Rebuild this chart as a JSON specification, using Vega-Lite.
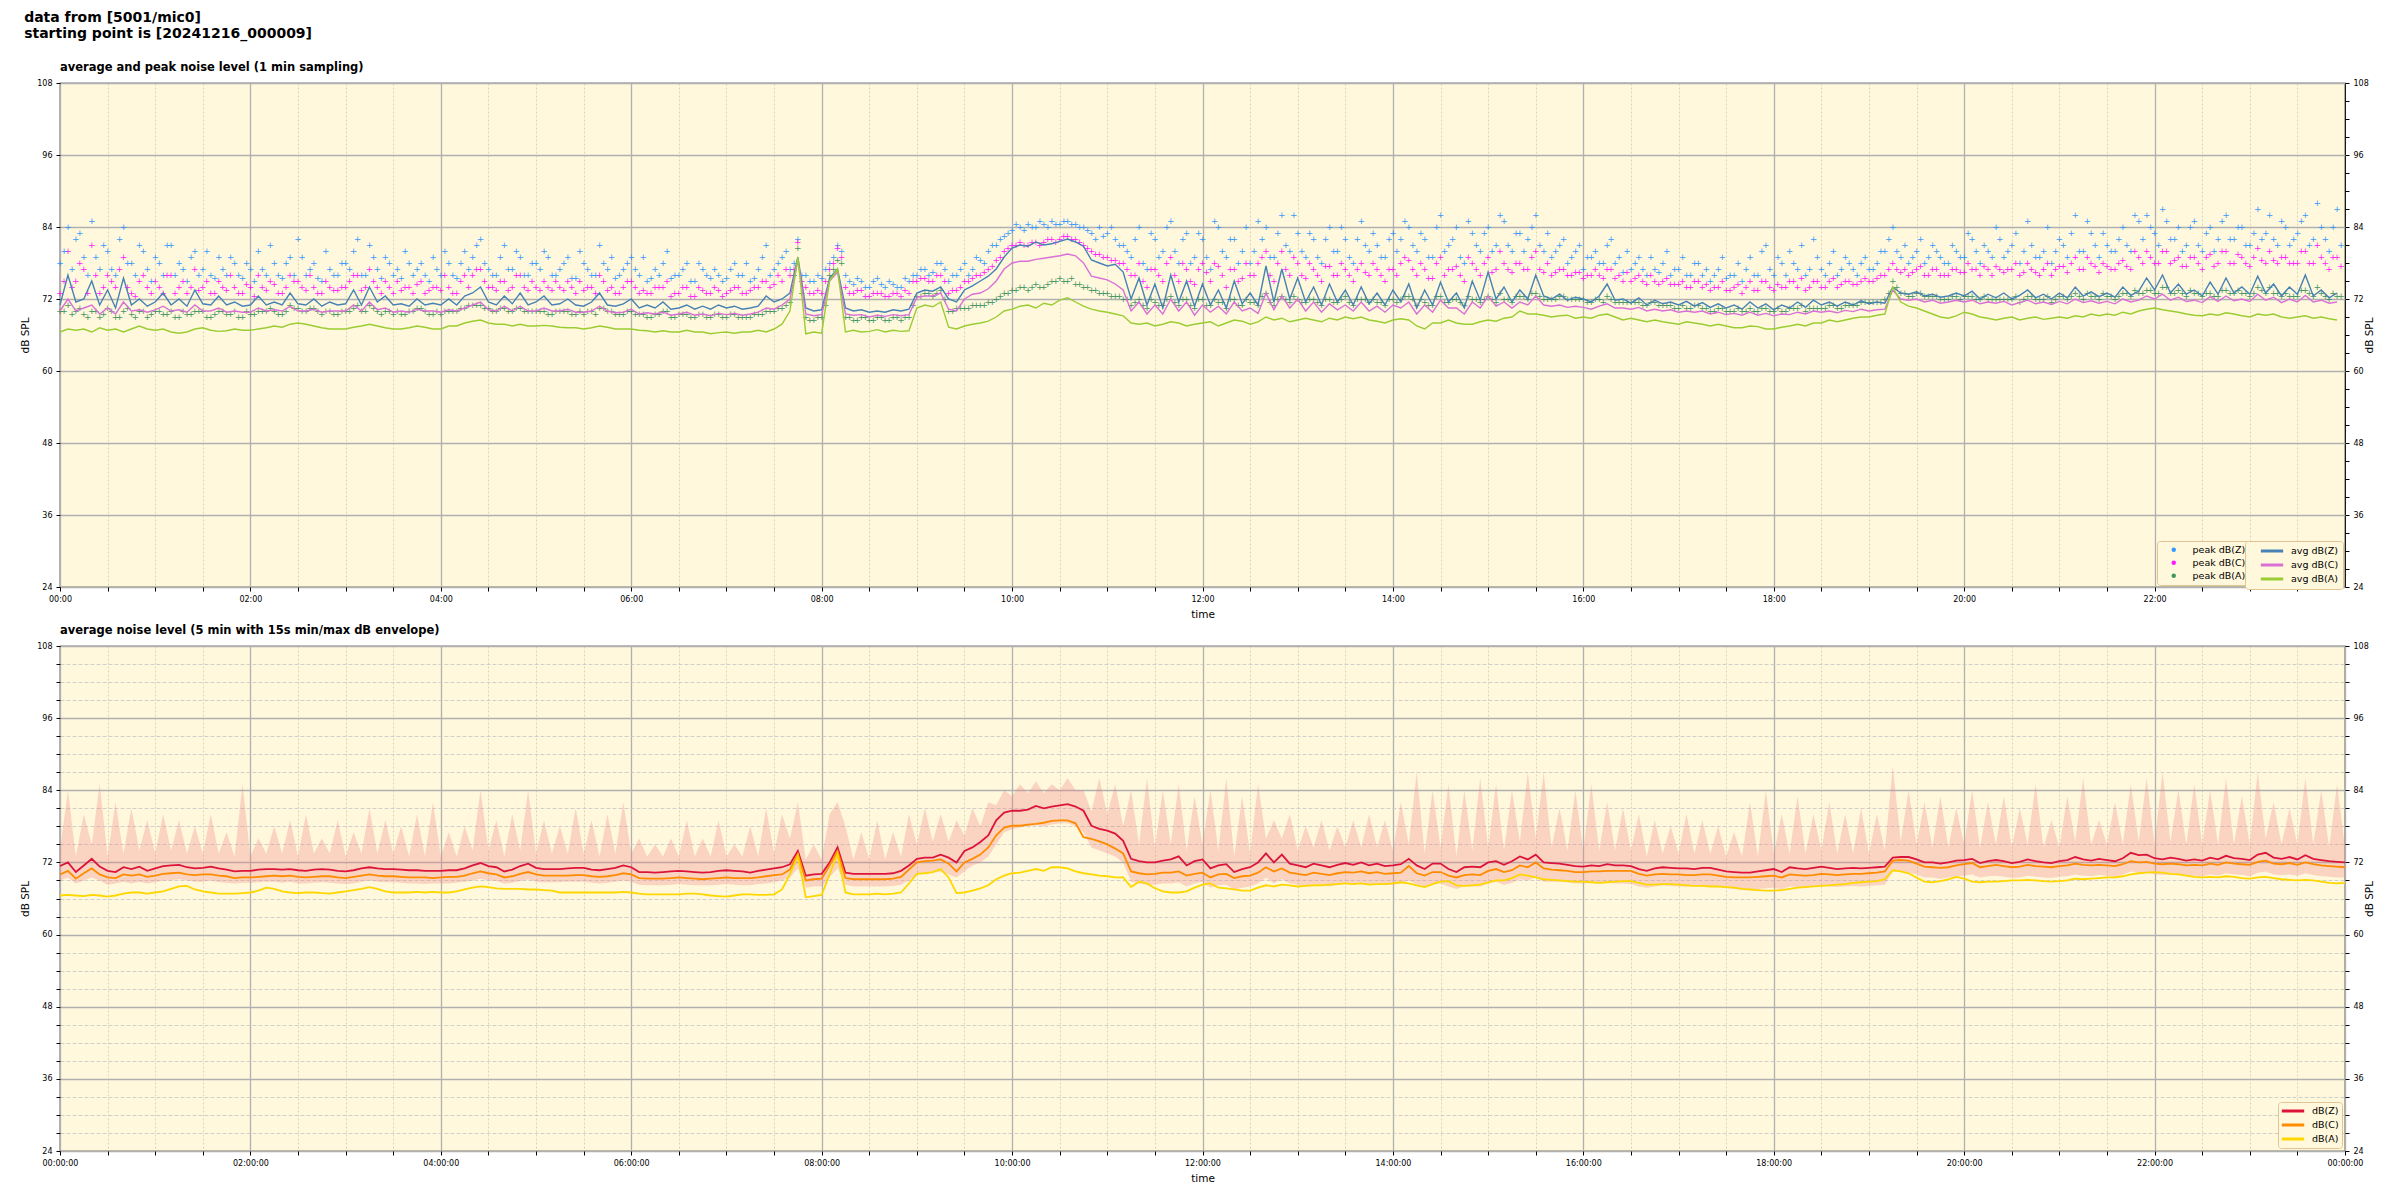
{
"$schema":"https://vega.github.io/schema/vega-lite/v6.json",
"background":"white",
"padding":{"left":20,"top":10,"right":5,"bottom":5},
"title":{"text":["data from [5001/mic0]","starting point is [20241216_000009]"],"anchor":"start","frame":"bounds","font":"DejaVu Sans","fontSize":14,"fontWeight":"bold","lineHeight":16,"offset":20,"dx":4,"color":"black"},
"config":{
 "font":"DejaVu Sans",
 "view":{"fill":"#fff8dc","stroke":"black","strokeWidth":1.2},
 "axis":{"labelFont":"DejaVu Sans","labelFontSize":8,"labelColor":"#000","titleFont":"DejaVu Sans","titleFontSize":10.5,"titleFontWeight":"normal","titleColor":"#000","tickColor":"#000","tickSize":4,"domain":false,"labelPadding":4,"titlePadding":6,"labelOverlap":false,"labelFlush":false},
 "title":{"font":"DejaVu Sans","color":"black"},
 "legend":{"labelFont":"DejaVu Sans","labelFontSize":9.5,"labelColor":"#000"}
},
"spacing":2,
"datasets":{
"top":[
{"m":0,"z":71,"c":70,"a":66.5,"pz":78,"pc":73,"pa":70},
{"m":5,"z":76,"c":72,"a":67,"pz":84,"pc":80,"pa":71},
{"m":10,"z":71.5,"c":70,"a":66.8,"pz":82,"pc":75,"pa":70},
{"m":15,"z":72,"c":70.5,"a":67,"pz":79,"pc":77,"pa":69.5},
{"m":20,"z":75,"c":71,"a":66.5,"pz":85,"pc":81,"pa":70},
{"m":25,"z":71,"c":69.5,"a":67.2,"pz":77,"pc":73,"pa":69},
{"m":30,"z":73.5,"c":70.5,"a":66.8,"pz":80,"pc":76,"pa":70.5},
{"m":35,"z":70.5,"c":69.5,"a":67,"pz":76,"pc":74,"pa":69},
{"m":40,"z":75.5,"c":71.5,"a":66.5,"pz":84,"pc":79,"pa":70},
{"m":45,"z":71,"c":70,"a":67,"pz":78,"pc":73,"pa":69.5},
{"m":50,"z":72,"c":70.2,"a":67.5,"pz":81,"pc":75,"pa":70},
{"m":55,"z":70.8,"c":69.8,"a":67,"pz":77,"pc":74,"pa":69},
{"m":60,"z":71.5,"c":70.2,"a":66.8,"pz":79,"pc":75,"pa":70},
{"m":65,"z":73,"c":70.8,"a":67,"pz":76,"pc":73,"pa":69.5},
{"m":70,"z":71,"c":70,"a":66.5,"pz":81,"pc":76,"pa":70},
{"m":75,"z":72,"c":70.2,"a":66.3,"pz":78,"pc":74,"pa":69},
{"m":80,"z":70.8,"c":69.8,"a":66.5,"pz":75,"pc":73,"pa":69.5},
{"m":85,"z":73.5,"c":71,"a":67,"pz":80,"pc":77,"pa":70},
{"m":90,"z":71.2,"c":70,"a":67.2,"pz":77,"pc":74,"pa":70},
{"m":95,"z":71,"c":70,"a":66.8,"pz":76,"pc":73,"pa":69},
{"m":100,"z":72.5,"c":70.5,"a":66.6,"pz":79,"pc":75,"pa":70},
{"m":105,"z":71,"c":69.8,"a":66.7,"pz":76,"pc":73.5,"pa":69.5},
{"m":110,"z":71.5,"c":70,"a":67,"pz":78,"pc":74,"pa":70},
{"m":115,"z":70.8,"c":69.8,"a":66.8,"pz":75.5,"pc":73,"pa":69},
{"m":120,"z":71,"c":69.8,"a":66.8,"pz":77,"pc":74,"pa":69.5},
{"m":125,"z":72.5,"c":70.5,"a":67,"pz":80,"pc":76,"pa":70},
{"m":130,"z":71,"c":70,"a":67.2,"pz":76,"pc":73.5,"pa":70},
{"m":135,"z":71.5,"c":70.2,"a":67.5,"pz":78,"pc":74.5,"pa":70},
{"m":140,"z":71,"c":70,"a":67.3,"pz":75.5,"pc":73,"pa":69.5},
{"m":145,"z":73,"c":70.8,"a":67.8,"pz":79,"pc":76,"pa":71},
{"m":150,"z":71.2,"c":70,"a":68,"pz":82,"pc":75,"pa":70.5},
{"m":155,"z":71,"c":70,"a":67.8,"pz":76,"pc":73.5,"pa":70},
{"m":160,"z":72,"c":70.3,"a":67.5,"pz":78,"pc":74,"pa":70.5},
{"m":165,"z":70.8,"c":69.8,"a":67.2,"pz":75,"pc":73,"pa":69.5},
{"m":170,"z":71.5,"c":70,"a":67,"pz":77,"pc":74,"pa":70},
{"m":175,"z":71,"c":70,"a":67,"pz":76,"pc":73.5,"pa":69.5},
{"m":180,"z":71.2,"c":70,"a":67,"pz":78,"pc":74,"pa":70},
{"m":185,"z":73.5,"c":71,"a":67.3,"pz":80,"pc":76,"pa":70.5},
{"m":190,"z":71,"c":70,"a":67.5,"pz":76,"pc":73.5,"pa":70},
{"m":195,"z":74,"c":71.5,"a":67.8,"pz":81,"pc":77,"pa":71},
{"m":200,"z":71.5,"c":70.2,"a":67.5,"pz":77,"pc":74,"pa":70},
{"m":205,"z":72.5,"c":70.5,"a":67.2,"pz":79,"pc":75,"pa":70},
{"m":210,"z":71,"c":69.8,"a":67,"pz":76,"pc":73,"pa":69.5},
{"m":215,"z":71.2,"c":70,"a":67,"pz":75.5,"pc":73.5,"pa":69.5},
{"m":220,"z":70.8,"c":69.8,"a":67.2,"pz":78,"pc":74,"pa":70},
{"m":225,"z":72,"c":70.3,"a":67.5,"pz":77,"pc":74.5,"pa":70.5},
{"m":230,"z":71,"c":70,"a":67.3,"pz":76,"pc":73,"pa":70},
{"m":235,"z":71.3,"c":70,"a":67,"pz":79,"pc":74,"pa":69.5},
{"m":240,"z":71,"c":69.8,"a":67,"pz":76,"pc":73.5,"pa":69.5},
{"m":245,"z":72,"c":70.2,"a":67.5,"pz":78,"pc":74,"pa":70},
{"m":250,"z":71,"c":70,"a":67.5,"pz":75.5,"pc":73,"pa":70},
{"m":255,"z":72.5,"c":70.5,"a":68,"pz":80,"pc":76,"pa":70.5},
{"m":260,"z":73,"c":71,"a":68.3,"pz":79,"pc":76,"pa":71},
{"m":265,"z":74,"c":71.5,"a":68.5,"pz":82,"pc":77,"pa":71},
{"m":270,"z":71.5,"c":70.2,"a":68,"pz":77,"pc":74,"pa":70.5},
{"m":275,"z":71,"c":70,"a":67.8,"pz":76,"pc":73.5,"pa":70},
{"m":280,"z":72.5,"c":70.8,"a":67.8,"pz":81,"pc":75,"pa":70.5},
{"m":285,"z":71.2,"c":70,"a":67.5,"pz":77,"pc":74,"pa":70},
{"m":290,"z":73,"c":70.8,"a":67.8,"pz":79,"pc":76,"pa":70.5},
{"m":295,"z":71,"c":70,"a":67.5,"pz":76,"pc":73.5,"pa":70},
{"m":300,"z":71.5,"c":70,"a":67.5,"pz":78,"pc":74,"pa":70},
{"m":305,"z":72.5,"c":70.5,"a":67.6,"pz":80,"pc":75,"pa":70},
{"m":310,"z":71,"c":70,"a":67.5,"pz":76,"pc":73.5,"pa":69.5},
{"m":315,"z":71.2,"c":70,"a":67.3,"pz":77,"pc":74,"pa":70},
{"m":320,"z":72,"c":70.3,"a":67.2,"pz":79,"pc":75,"pa":70},
{"m":325,"z":71,"c":69.8,"a":67.2,"pz":75.5,"pc":73,"pa":69.5},
{"m":330,"z":70.8,"c":69.8,"a":67,"pz":78,"pc":73.5,"pa":69.5},
{"m":335,"z":71.5,"c":70,"a":67.2,"pz":76,"pc":74,"pa":70},
{"m":340,"z":73,"c":70.8,"a":67.5,"pz":81,"pc":76,"pa":70.5},
{"m":345,"z":71,"c":70,"a":67.3,"pz":77,"pc":73.5,"pa":70},
{"m":350,"z":70.8,"c":69.7,"a":67,"pz":75.5,"pc":73,"pa":69.5},
{"m":355,"z":71.2,"c":69.8,"a":67,"pz":77,"pc":74,"pa":69.5},
{"m":360,"z":72,"c":70.3,"a":67,"pz":79,"pc":75,"pa":70},
{"m":365,"z":70.5,"c":69.5,"a":66.8,"pz":76,"pc":73,"pa":69.5},
{"m":370,"z":71,"c":69.7,"a":66.7,"pz":75,"pc":73,"pa":69},
{"m":375,"z":70.5,"c":69.5,"a":66.5,"pz":77,"pc":74,"pa":69.5},
{"m":380,"z":71.5,"c":69.8,"a":66.7,"pz":78,"pc":74,"pa":70},
{"m":385,"z":70.3,"c":69.3,"a":66.5,"pz":75.5,"pc":72.5,"pa":69},
{"m":390,"z":70.5,"c":69.5,"a":66.5,"pz":76,"pc":73,"pa":69.5},
{"m":395,"z":71,"c":69.8,"a":66.8,"pz":78,"pc":74,"pa":69.5},
{"m":400,"z":70.3,"c":69.3,"a":66.5,"pz":75,"pc":72.5,"pa":69},
{"m":405,"z":70.8,"c":69.5,"a":66.5,"pz":77,"pc":73.5,"pa":69.5},
{"m":410,"z":70.3,"c":69.2,"a":66.2,"pz":75.5,"pc":73,"pa":69},
{"m":415,"z":71,"c":69.6,"a":66.4,"pz":76,"pc":73.5,"pa":69.5},
{"m":420,"z":70.5,"c":69.4,"a":66.5,"pz":75.5,"pc":73,"pa":69},
{"m":425,"z":70.8,"c":69.6,"a":66.3,"pz":78,"pc":74,"pa":69.5},
{"m":430,"z":70.3,"c":69.3,"a":66.5,"pz":76,"pc":73,"pa":69},
{"m":435,"z":70.5,"c":69.5,"a":66.5,"pz":75,"pc":73.5,"pa":69},
{"m":440,"z":70.8,"c":69.8,"a":66.8,"pz":77,"pc":74,"pa":69.5},
{"m":445,"z":72.5,"c":70.5,"a":66.5,"pz":81,"pc":75,"pa":70},
{"m":450,"z":71.5,"c":70.3,"a":67,"pz":77,"pc":74.5,"pa":70},
{"m":455,"z":72,"c":71,"a":67.8,"pz":79,"pc":75,"pa":70.5},
{"m":460,"z":73,"c":72,"a":70,"pz":77,"pc":76,"pa":71.5},
{"m":465,"z":79,"c":78.5,"a":79,"pz":82,"pc":81.5,"pa":80.5},
{"m":470,"z":70.5,"c":69.5,"a":66.2,"pz":76,"pc":74,"pa":69},
{"m":475,"z":70,"c":69.2,"a":66.5,"pz":75,"pc":73,"pa":68.5},
{"m":480,"z":70.2,"c":69.4,"a":66.3,"pz":75.5,"pc":73,"pa":69},
{"m":485,"z":75.5,"c":75,"a":75,"pz":78,"pc":77,"pa":76},
{"m":490,"z":77,"c":76.5,"a":77,"pz":81,"pc":80.5,"pa":78.5},
{"m":495,"z":70.5,"c":69.5,"a":66.5,"pz":76,"pc":74,"pa":69},
{"m":500,"z":70,"c":69.3,"a":66.8,"pz":74.5,"pc":73,"pa":68.5},
{"m":505,"z":70.2,"c":69.4,"a":66.5,"pz":75,"pc":73.5,"pa":69},
{"m":510,"z":69.8,"c":69,"a":66.6,"pz":74,"pc":72.5,"pa":68.5},
{"m":515,"z":70,"c":69.3,"a":66.9,"pz":75.5,"pc":73,"pa":69},
{"m":520,"z":69.8,"c":69.1,"a":66.5,"pz":74,"pc":72.5,"pa":68.5},
{"m":525,"z":70.2,"c":69.4,"a":66.8,"pz":74.5,"pc":73,"pa":69},
{"m":530,"z":70,"c":69.2,"a":66.6,"pz":74,"pc":72.5,"pa":68.5},
{"m":535,"z":70.3,"c":69.4,"a":66.7,"pz":75,"pc":73,"pa":69},
{"m":540,"z":73,"c":72.3,"a":70.5,"pz":76,"pc":75,"pa":72.5},
{"m":545,"z":73.5,"c":72.5,"a":71,"pz":77,"pc":75.5,"pa":73},
{"m":550,"z":73.3,"c":72.5,"a":70.7,"pz":76.5,"pc":75,"pa":72.5},
{"m":555,"z":74,"c":73,"a":71.5,"pz":78,"pc":76,"pa":73.5},
{"m":560,"z":72,"c":70.3,"a":67.3,"pz":75,"pc":73,"pa":70},
{"m":565,"z":71.5,"c":70,"a":67,"pz":76,"pc":73.5,"pa":70.5},
{"m":570,"z":73.5,"c":72,"a":67.5,"pz":78,"pc":75,"pa":70.5},
{"m":575,"z":74.2,"c":72.8,"a":67.8,"pz":77,"pc":75.5,"pa":71},
{"m":580,"z":75,"c":73,"a":68,"pz":78.5,"pc":76,"pa":71},
{"m":585,"z":75.8,"c":73.7,"a":68.3,"pz":80,"pc":77,"pa":71.5},
{"m":590,"z":77,"c":75,"a":69,"pz":81,"pc":78.5,"pa":72},
{"m":595,"z":79,"c":77,"a":70,"pz":82.5,"pc":80,"pa":73},
{"m":600,"z":80.5,"c":78,"a":70.3,"pz":83.5,"pc":81,"pa":73.5},
{"m":605,"z":81,"c":78.3,"a":70.8,"pz":84,"pc":81.5,"pa":74},
{"m":610,"z":80.8,"c":78.3,"a":71,"pz":84.5,"pc":81,"pa":73.5},
{"m":615,"z":81.5,"c":78.6,"a":70.5,"pz":84,"pc":81.5,"pa":74.5},
{"m":620,"z":81,"c":78.8,"a":71.3,"pz":84.5,"pc":81.5,"pa":74},
{"m":625,"z":81.2,"c":79,"a":71,"pz":85,"pc":82,"pa":75},
{"m":630,"z":81.6,"c":79.2,"a":71.8,"pz":84.5,"pc":82,"pa":75.5},
{"m":635,"z":82,"c":79.5,"a":72.2,"pz":85,"pc":82.5,"pa":75},
{"m":640,"z":81.5,"c":79.2,"a":71.5,"pz":84.5,"pc":82,"pa":74.5},
{"m":645,"z":80.8,"c":78,"a":70.8,"pz":84,"pc":81,"pa":74},
{"m":650,"z":78.5,"c":75.8,"a":70.3,"pz":83,"pc":80,"pa":73.5},
{"m":655,"z":78,"c":75.5,"a":70,"pz":84,"pc":79.5,"pa":73},
{"m":660,"z":77.5,"c":75.2,"a":69.8,"pz":83,"pc":79,"pa":73},
{"m":665,"z":77.8,"c":74.5,"a":69.5,"pz":82,"pc":78.5,"pa":72.5},
{"m":670,"z":76.5,"c":73.5,"a":69.2,"pz":81,"pc":78,"pa":72},
{"m":675,"z":72,"c":70,"a":68,"pz":79,"pc":76,"pa":71},
{"m":680,"z":75.5,"c":71.5,"a":67.8,"pz":84,"pc":78,"pa":72},
{"m":685,"z":71,"c":69.5,"a":68,"pz":77,"pc":74,"pa":70.5},
{"m":690,"z":74.5,"c":71,"a":67.5,"pz":82,"pc":77,"pa":71.5},
{"m":695,"z":70.5,"c":69.5,"a":67.8,"pz":80,"pc":75,"pa":71},
{"m":700,"z":76,"c":72,"a":68.2,"pz":85,"pc":79,"pa":72.5},
{"m":705,"z":71.5,"c":70,"a":68,"pz":78,"pc":75,"pa":71},
{"m":710,"z":75,"c":71.5,"a":67.5,"pz":83,"pc":77,"pa":72},
{"m":715,"z":70.8,"c":69.3,"a":67.8,"pz":79,"pc":74.5,"pa":70.5},
{"m":720,"z":74.5,"c":71,"a":68,"pz":82,"pc":78,"pa":72},
{"m":725,"z":71,"c":69.8,"a":68.2,"pz":77,"pc":75,"pa":71},
{"m":730,"z":73.5,"c":70.8,"a":67.5,"pz":84,"pc":77.5,"pa":71.5},
{"m":735,"z":70.5,"c":69.5,"a":68,"pz":79,"pc":74,"pa":70.5},
{"m":740,"z":75,"c":71.5,"a":68.5,"pz":82,"pc":77,"pa":72},
{"m":745,"z":71.2,"c":70,"a":68.3,"pz":80,"pc":75.5,"pa":71},
{"m":750,"z":73,"c":70.5,"a":67.8,"pz":78,"pc":76,"pa":71.5},
{"m":755,"z":71,"c":69.6,"a":68.2,"pz":85,"pc":78,"pa":71},
{"m":760,"z":77.5,"c":73,"a":69,"pz":84,"pc":80,"pa":73},
{"m":765,"z":71.5,"c":70.2,"a":68.5,"pz":79,"pc":75,"pa":71},
{"m":770,"z":77,"c":72.5,"a":68.8,"pz":86,"pc":80,"pa":72.5},
{"m":775,"z":72,"c":70.5,"a":68.2,"pz":80,"pc":76,"pa":71.5},
{"m":780,"z":75.5,"c":72,"a":68.5,"pz":83,"pc":78,"pa":72},
{"m":785,"z":71.5,"c":70,"a":68.8,"pz":79,"pc":75.5,"pa":71.5},
{"m":790,"z":74,"c":71.5,"a":68.5,"pz":82,"pc":77,"pa":72},
{"m":795,"z":71,"c":69.8,"a":68.2,"pz":78,"pc":75,"pa":71},
{"m":800,"z":74.5,"c":71.2,"a":68.8,"pz":84,"pc":77.5,"pa":72},
{"m":805,"z":71.5,"c":70.2,"a":68.5,"pz":80,"pc":76,"pa":71.5},
{"m":810,"z":73.5,"c":71,"a":69,"pz":82,"pc":77,"pa":72.5},
{"m":815,"z":71,"c":70,"a":68.7,"pz":78,"pc":75,"pa":71},
{"m":820,"z":74,"c":71.5,"a":69,"pz":85,"pc":78,"pa":72},
{"m":825,"z":71.2,"c":70,"a":68.5,"pz":80,"pc":76,"pa":71.5},
{"m":830,"z":73,"c":70.8,"a":68.3,"pz":81,"pc":77,"pa":71.5},
{"m":835,"z":71,"c":69.8,"a":68,"pz":79,"pc":75,"pa":71},
{"m":840,"z":73.5,"c":71,"a":68.5,"pz":83,"pc":77,"pa":72},
{"m":845,"z":71.5,"c":70.5,"a":68.7,"pz":82,"pc":78,"pa":72},
{"m":850,"z":74.5,"c":71.5,"a":68.5,"pz":84,"pc":78.5,"pa":72.5},
{"m":855,"z":70.5,"c":69.5,"a":67.5,"pz":80,"pc":76,"pa":71},
{"m":860,"z":73.5,"c":71,"a":67,"pz":82,"pc":77,"pa":71.5},
{"m":865,"z":71,"c":69.8,"a":68,"pz":79,"pc":75.5,"pa":71},
{"m":870,"z":74.8,"c":71.8,"a":68,"pz":86,"pc":79,"pa":72.5},
{"m":875,"z":71.5,"c":70.5,"a":68.5,"pz":81,"pc":77,"pa":71.5},
{"m":880,"z":73,"c":70.5,"a":68,"pz":84,"pc":77.5,"pa":72},
{"m":885,"z":70.5,"c":69.5,"a":67.8,"pz":78,"pc":75,"pa":71},
{"m":890,"z":75,"c":71.5,"a":67.8,"pz":83,"pc":78,"pa":72},
{"m":895,"z":71.8,"c":70.5,"a":68.2,"pz":80,"pc":76,"pa":71.5},
{"m":900,"z":76.5,"c":72.5,"a":68.5,"pz":84,"pc":79,"pa":72.5},
{"m":905,"z":72,"c":70.8,"a":68.3,"pz":81,"pc":77,"pa":71.5},
{"m":910,"z":74,"c":71.5,"a":68.8,"pz":85,"pc":78,"pa":72},
{"m":915,"z":71.5,"c":70.5,"a":69,"pz":80,"pc":76.5,"pa":71.5},
{"m":920,"z":73.5,"c":71.5,"a":70,"pz":83,"pc":78,"pa":72.5},
{"m":925,"z":72,"c":71,"a":69.5,"pz":82,"pc":77,"pa":72},
{"m":930,"z":76,"c":72.5,"a":69.5,"pz":86,"pc":80,"pa":73},
{"m":935,"z":72.5,"c":71,"a":69.3,"pz":80,"pc":76.5,"pa":72},
{"m":940,"z":72,"c":70.8,"a":69,"pz":79,"pc":76,"pa":72},
{"m":945,"z":72.8,"c":71,"a":69.2,"pz":81,"pc":77,"pa":72.5},
{"m":950,"z":71.8,"c":70.6,"a":69.3,"pz":78,"pc":76,"pa":72},
{"m":955,"z":72.3,"c":70.8,"a":68.8,"pz":80,"pc":76.5,"pa":72},
{"m":960,"z":72,"c":70.6,"a":69,"pz":77,"pc":75.5,"pa":72},
{"m":965,"z":71.5,"c":70.3,"a":68.8,"pz":79,"pc":76,"pa":71.5},
{"m":970,"z":72.5,"c":70.8,"a":69.3,"pz":78,"pc":76,"pa":72},
{"m":975,"z":74.5,"c":71.2,"a":69.5,"pz":81,"pc":77,"pa":72.5},
{"m":980,"z":71.8,"c":70.5,"a":69,"pz":78,"pc":75.5,"pa":71.5},
{"m":985,"z":72,"c":70.5,"a":68.5,"pz":76.5,"pc":75,"pa":71.5},
{"m":990,"z":71.3,"c":70.3,"a":68.8,"pz":77,"pc":75,"pa":71.5},
{"m":995,"z":72.2,"c":70.6,"a":68.5,"pz":79,"pc":76,"pa":71.5},
{"m":1000,"z":71,"c":70,"a":68.2,"pz":76,"pc":74.5,"pa":71},
{"m":1005,"z":71.8,"c":70.3,"a":68.5,"pz":77,"pc":75,"pa":71.5},
{"m":1010,"z":71.2,"c":70,"a":68.2,"pz":78,"pc":75,"pa":71},
{"m":1015,"z":71.5,"c":70.2,"a":68,"pz":76,"pc":74.5,"pa":71},
{"m":1020,"z":71,"c":69.8,"a":67.8,"pz":77,"pc":74.5,"pa":70.5},
{"m":1025,"z":71.6,"c":70,"a":68.2,"pz":76,"pc":74,"pa":70.5},
{"m":1030,"z":70.8,"c":69.8,"a":68,"pz":78,"pc":75,"pa":71},
{"m":1035,"z":71.4,"c":70,"a":67.8,"pz":76,"pc":74,"pa":70.5},
{"m":1040,"z":70.6,"c":69.5,"a":67.5,"pz":75,"pc":73.5,"pa":70},
{"m":1045,"z":71.2,"c":69.8,"a":67.8,"pz":77,"pc":74,"pa":70.5},
{"m":1050,"z":70.5,"c":69.4,"a":67.5,"pz":75.5,"pc":73.5,"pa":70},
{"m":1055,"z":71,"c":69.6,"a":67.2,"pz":76,"pc":74,"pa":70},
{"m":1060,"z":70.3,"c":69.3,"a":67.2,"pz":75,"pc":73,"pa":70},
{"m":1065,"z":71.5,"c":69.8,"a":67.5,"pz":79,"pc":75,"pa":70.5},
{"m":1070,"z":70.5,"c":69.3,"a":67.4,"pz":76,"pc":73.5,"pa":70},
{"m":1075,"z":71.2,"c":69.6,"a":67,"pz":81,"pc":75,"pa":70.5},
{"m":1080,"z":70.2,"c":69.2,"a":67,"pz":76,"pc":73.5,"pa":70},
{"m":1085,"z":71,"c":69.5,"a":67.3,"pz":78,"pc":74,"pa":70},
{"m":1090,"z":70.5,"c":69.4,"a":67.5,"pz":80,"pc":75,"pa":70.5},
{"m":1095,"z":71.5,"c":69.8,"a":67.8,"pz":77,"pc":74,"pa":70.5},
{"m":1100,"z":70.6,"c":69.5,"a":67.5,"pz":76,"pc":73.5,"pa":70},
{"m":1105,"z":71.8,"c":70,"a":68,"pz":82,"pc":75,"pa":70.5},
{"m":1110,"z":71,"c":69.8,"a":68,"pz":77,"pc":74,"pa":70.5},
{"m":1115,"z":71.5,"c":70,"a":68.5,"pz":78,"pc":75,"pa":71},
{"m":1120,"z":70.8,"c":69.7,"a":68.2,"pz":76,"pc":74,"pa":70.5},
{"m":1125,"z":71.5,"c":70.1,"a":68.5,"pz":79,"pc":75,"pa":71},
{"m":1130,"z":71,"c":69.9,"a":68.8,"pz":77,"pc":74.5,"pa":71},
{"m":1135,"z":71.7,"c":70.3,"a":69,"pz":78,"pc":75,"pa":71.5},
{"m":1140,"z":71.2,"c":70,"a":69,"pz":77,"pc":75,"pa":71.5},
{"m":1145,"z":71.5,"c":70.2,"a":69.3,"pz":78,"pc":75.5,"pa":71.5},
{"m":1150,"z":71.3,"c":70.3,"a":69.5,"pz":80,"pc":76,"pa":72},
{"m":1155,"z":74,"c":73.5,"a":74,"pz":84,"pc":78,"pa":75},
{"m":1160,"z":73,"c":72,"a":71.5,"pz":79,"pc":76.5,"pa":73},
{"m":1165,"z":72.8,"c":71.8,"a":70.8,"pz":78,"pc":76,"pa":72.5},
{"m":1170,"z":73.2,"c":72,"a":70.5,"pz":80,"pc":77,"pa":73},
{"m":1175,"z":72.5,"c":71.5,"a":70,"pz":78,"pc":76,"pa":72.5},
{"m":1180,"z":72.8,"c":71.8,"a":69.5,"pz":81,"pc":77,"pa":72.5},
{"m":1185,"z":72.3,"c":71.3,"a":69,"pz":79,"pc":76,"pa":72},
{"m":1190,"z":72.5,"c":71.5,"a":68.8,"pz":78,"pc":76,"pa":72},
{"m":1195,"z":73,"c":71.8,"a":69.2,"pz":80,"pc":77,"pa":72.5},
{"m":1200,"z":72.5,"c":71.5,"a":69.8,"pz":79,"pc":76.5,"pa":72.5},
{"m":1205,"z":73.3,"c":71.8,"a":69.5,"pz":82,"pc":77,"pa":72.5},
{"m":1210,"z":72,"c":71.2,"a":69,"pz":78,"pc":76,"pa":72},
{"m":1215,"z":72.8,"c":71.5,"a":68.8,"pz":80,"pc":77,"pa":72},
{"m":1220,"z":72.2,"c":71.3,"a":68.5,"pz":84,"pc":77.5,"pa":72},
{"m":1225,"z":73,"c":71.6,"a":68.8,"pz":79,"pc":76.5,"pa":72},
{"m":1230,"z":72,"c":71,"a":69,"pz":81,"pc":77,"pa":72},
{"m":1235,"z":72.6,"c":71.4,"a":68.5,"pz":78,"pc":76,"pa":71.5},
{"m":1240,"z":73.5,"c":71.8,"a":68.8,"pz":85,"pc":78,"pa":72.5},
{"m":1245,"z":72.2,"c":71.2,"a":69,"pz":79,"pc":76.5,"pa":72},
{"m":1250,"z":72.8,"c":71.5,"a":68.6,"pz":80,"pc":77,"pa":72},
{"m":1255,"z":72,"c":71.1,"a":68.8,"pz":78,"pc":76,"pa":71.5},
{"m":1260,"z":73,"c":71.6,"a":69,"pz":82,"pc":77.5,"pa":72.5},
{"m":1265,"z":72.2,"c":71.2,"a":68.8,"pz":79,"pc":76.5,"pa":72},
{"m":1270,"z":74,"c":72,"a":69.2,"pz":86,"pc":79,"pa":73},
{"m":1275,"z":72.5,"c":71.4,"a":69,"pz":80,"pc":77,"pa":72},
{"m":1280,"z":73.2,"c":71.7,"a":69.5,"pz":83,"pc":78,"pa":72.5},
{"m":1285,"z":72.4,"c":71.3,"a":69.2,"pz":79,"pc":76.5,"pa":72},
{"m":1290,"z":73,"c":71.6,"a":69.5,"pz":81,"pc":77.5,"pa":72.5},
{"m":1295,"z":72.3,"c":71.2,"a":69.3,"pz":80,"pc":77,"pa":72},
{"m":1300,"z":74,"c":72,"a":69.8,"pz":84,"pc":78.5,"pa":73},
{"m":1305,"z":72.6,"c":71.5,"a":69.5,"pz":80,"pc":77,"pa":72.5},
{"m":1310,"z":73.3,"c":71.8,"a":70,"pz":85,"pc":79,"pa":73},
{"m":1315,"z":75.5,"c":72.5,"a":70.3,"pz":86,"pc":80,"pa":73.5},
{"m":1320,"z":73.5,"c":72,"a":70.5,"pz":83,"pc":78,"pa":73},
{"m":1325,"z":76,"c":72.8,"a":70.2,"pz":87,"pc":80,"pa":74},
{"m":1330,"z":73,"c":71.8,"a":70,"pz":82,"pc":78,"pa":73},
{"m":1335,"z":74.5,"c":72.3,"a":69.8,"pz":84,"pc":79,"pa":73.5},
{"m":1340,"z":72.8,"c":71.6,"a":69.5,"pz":81,"pc":77.5,"pa":72.5},
{"m":1345,"z":73.5,"c":71.8,"a":69.3,"pz":85,"pc":79,"pa":73},
{"m":1350,"z":72.5,"c":71.4,"a":69.2,"pz":80,"pc":77,"pa":72.5},
{"m":1355,"z":74.8,"c":72.4,"a":69.5,"pz":84,"pc":79.5,"pa":73},
{"m":1360,"z":72.8,"c":71.6,"a":69.3,"pz":82,"pc":78,"pa":72.5},
{"m":1365,"z":75.5,"c":72.5,"a":69.7,"pz":86,"pc":80,"pa":73.5},
{"m":1370,"z":73,"c":71.7,"a":69.5,"pz":82,"pc":78,"pa":73},
{"m":1375,"z":74,"c":72,"a":69.2,"pz":84,"pc":79,"pa":73},
{"m":1380,"z":72.8,"c":71.6,"a":69,"pz":81,"pc":77.5,"pa":72.5},
{"m":1385,"z":75.8,"c":72.8,"a":69.5,"pz":87,"pc":80.5,"pa":74},
{"m":1390,"z":73,"c":71.8,"a":69.3,"pz":83,"pc":78,"pa":73},
{"m":1395,"z":74.5,"c":72.3,"a":69.5,"pz":82,"pc":78.5,"pa":73},
{"m":1400,"z":72.5,"c":71.4,"a":69,"pz":85,"pc":79,"pa":72.5},
{"m":1405,"z":74,"c":72,"a":68.8,"pz":81,"pc":78,"pa":72.5},
{"m":1410,"z":72.8,"c":71.5,"a":69,"pz":83,"pc":78,"pa":72.5},
{"m":1415,"z":76,"c":72.6,"a":69.2,"pz":86,"pc":80,"pa":73.5},
{"m":1420,"z":72.5,"c":71.5,"a":68.8,"pz":82,"pc":78,"pa":72.5},
{"m":1425,"z":73.5,"c":71.8,"a":69,"pz":84,"pc":79,"pa":73},
{"m":1430,"z":72.2,"c":71.3,"a":68.7,"pz":80,"pc":77,"pa":72},
{"m":1435,"z":73,"c":71.5,"a":68.5,"pz":87,"pc":79,"pa":72.5}
],
"pk2":[
{"m":2.5,"pz":80,"pc":75,"pa":70},{"m":7.5,"pz":77,"pc":74,"pa":69.5},{"m":12.5,"pz":83,"pc":78,"pa":70.5},{"m":17.5,"pz":76,"pc":73,"pa":69},
{"m":22.5,"pz":79,"pc":76,"pa":70},{"m":27.5,"pz":81,"pc":74,"pa":69.5},{"m":32.5,"pz":77,"pc":75,"pa":70},{"m":37.5,"pz":82,"pc":77,"pa":69},
{"m":42.5,"pz":78,"pc":74,"pa":70.5},{"m":47.5,"pz":76,"pc":72.5,"pa":69},{"m":52.5,"pz":80,"pc":76,"pa":70},{"m":57.5,"pz":75,"pc":73,"pa":69.5},
{"m":62.5,"pz":78,"pc":74,"pa":70},{"m":67.5,"pz":81,"pc":76,"pa":69.5},{"m":72.5,"pz":76,"pc":73,"pa":69},{"m":77.5,"pz":77,"pc":75,"pa":70},
{"m":82.5,"pz":79,"pc":74,"pa":69.5},{"m":87.5,"pz":76,"pc":73.5,"pa":70},{"m":92.5,"pz":80,"pc":75,"pa":69},{"m":97.5,"pz":75.5,"pc":73,"pa":69.5},
{"m":102.5,"pz":77,"pc":74,"pa":70},{"m":107.5,"pz":79,"pc":76,"pa":69.5},{"m":112.5,"pz":76,"pc":73,"pa":69},{"m":117.5,"pz":78,"pc":74.5,"pa":70},
{"m":122.5,"pz":75,"pc":72.5,"pa":69.5},{"m":127.5,"pz":77,"pc":74,"pa":70},{"m":132.5,"pz":81,"pc":75,"pa":70.5},{"m":137.5,"pz":76,"pc":73,"pa":69.5},
{"m":142.5,"pz":78,"pc":74,"pa":70},{"m":147.5,"pz":76,"pc":75,"pa":70.5},{"m":152.5,"pz":79,"pc":74,"pa":70},{"m":157.5,"pz":77,"pc":76,"pa":70.5},
{"m":162.5,"pz":75.5,"pc":73,"pa":70},{"m":167.5,"pz":80,"pc":75,"pa":70},{"m":172.5,"pz":76,"pc":73.5,"pa":69.5},{"m":177.5,"pz":78,"pc":74,"pa":70},
{"m":182.5,"pz":77,"pc":75,"pa":70},{"m":187.5,"pz":82,"pc":76,"pa":71},{"m":192.5,"pz":76,"pc":74,"pa":70},{"m":197.5,"pz":79,"pc":75,"pa":70.5},
{"m":202.5,"pz":75.5,"pc":73,"pa":69.5},{"m":207.5,"pz":78,"pc":74,"pa":70},{"m":212.5,"pz":77,"pc":75,"pa":70},{"m":217.5,"pz":80,"pc":74,"pa":69.5},
{"m":222.5,"pz":76,"pc":73,"pa":70},{"m":227.5,"pz":78,"pc":75,"pa":70.5},{"m":232.5,"pz":75,"pc":73.5,"pa":69.5},{"m":237.5,"pz":77,"pc":74,"pa":70},
{"m":242.5,"pz":80,"pc":76,"pa":70},{"m":247.5,"pz":76,"pc":73,"pa":70},{"m":252.5,"pz":78,"pc":75,"pa":70.5},{"m":257.5,"pz":77,"pc":74,"pa":71},
{"m":262.5,"pz":81,"pc":77,"pa":71},{"m":267.5,"pz":78,"pc":75,"pa":70.5},{"m":272.5,"pz":76,"pc":74,"pa":70},{"m":277.5,"pz":79,"pc":75,"pa":70.5},
{"m":282.5,"pz":77,"pc":73.5,"pa":70},{"m":287.5,"pz":80,"pc":76,"pa":70.5},{"m":292.5,"pz":76,"pc":74,"pa":70},{"m":297.5,"pz":78,"pc":75,"pa":70},
{"m":302.5,"pz":77,"pc":73.5,"pa":70},{"m":307.5,"pz":79,"pc":74,"pa":69.5},{"m":312.5,"pz":76,"pc":75,"pa":70},{"m":317.5,"pz":78,"pc":73.5,"pa":70},
{"m":322.5,"pz":75.5,"pc":74,"pa":69.5},{"m":327.5,"pz":80,"pc":75,"pa":70},{"m":332.5,"pz":77,"pc":74,"pa":70},{"m":337.5,"pz":76,"pc":73,"pa":69.5},
{"m":342.5,"pz":78,"pc":75,"pa":70.5},{"m":347.5,"pz":79,"pc":74,"pa":70},{"m":352.5,"pz":76,"pc":73,"pa":69.5},{"m":357.5,"pz":78,"pc":75,"pa":70},
{"m":362.5,"pz":77,"pc":74,"pa":69.5},{"m":367.5,"pz":79,"pc":73.5,"pa":69.5},{"m":372.5,"pz":75.5,"pc":73,"pa":69},{"m":377.5,"pz":76,"pc":74,"pa":69.5},
{"m":382.5,"pz":80,"pc":75,"pa":70},{"m":387.5,"pz":76,"pc":73,"pa":69},{"m":392.5,"pz":77,"pc":74,"pa":69.5},{"m":397.5,"pz":75,"pc":72.5,"pa":69},
{"m":402.5,"pz":78,"pc":74,"pa":69.5},{"m":407.5,"pz":76,"pc":73,"pa":69},{"m":412.5,"pz":77,"pc":74,"pa":69.5},{"m":417.5,"pz":75,"pc":72.5,"pa":69},
{"m":422.5,"pz":77,"pc":73.5,"pa":69.5},{"m":427.5,"pz":76,"pc":74,"pa":69},{"m":432.5,"pz":78,"pc":73,"pa":69},{"m":437.5,"pz":75.5,"pc":74,"pa":69.5},
{"m":442.5,"pz":79,"pc":75,"pa":69.5},{"m":447.5,"pz":76,"pc":74,"pa":70},{"m":452.5,"pz":78,"pc":76,"pa":70.5},{"m":457.5,"pz":80,"pc":77,"pa":71},
{"m":462.5,"pz":78,"pc":77,"pa":76},{"m":467.5,"pz":76,"pc":75,"pa":73},{"m":472.5,"pz":75,"pc":73,"pa":68.5},{"m":477.5,"pz":76,"pc":73.5,"pa":69},
{"m":482.5,"pz":77,"pc":75,"pa":71},{"m":487.5,"pz":79,"pc":78,"pa":77},{"m":492.5,"pz":80,"pc":79,"pa":78},{"m":497.5,"pz":75,"pc":73,"pa":69},
{"m":502.5,"pz":75.5,"pc":73.5,"pa":68.5},{"m":507.5,"pz":74,"pc":72.5,"pa":69},{"m":512.5,"pz":75,"pc":73,"pa":68.5},{"m":517.5,"pz":74.5,"pc":73,"pa":69},
{"m":522.5,"pz":75,"pc":72.5,"pa":68.5},{"m":527.5,"pz":74,"pc":73,"pa":69},{"m":532.5,"pz":75.5,"pc":73.5,"pa":69},{"m":537.5,"pz":76,"pc":75,"pa":71},
{"m":542.5,"pz":77,"pc":75.5,"pa":72.5},{"m":547.5,"pz":76,"pc":75,"pa":73},{"m":552.5,"pz":78,"pc":76,"pa":73},{"m":557.5,"pz":77,"pc":75,"pa":72},
{"m":562.5,"pz":76,"pc":73.5,"pa":70},{"m":567.5,"pz":77,"pc":74,"pa":70.5},{"m":572.5,"pz":76,"pc":75,"pa":70.5},{"m":577.5,"pz":79,"pc":76,"pa":71},
{"m":582.5,"pz":78,"pc":76.5,"pa":71},{"m":587.5,"pz":81,"pc":77.5,"pa":71.5},{"m":592.5,"pz":82,"pc":79,"pa":72.5},{"m":597.5,"pz":83,"pc":80.5,"pa":73},
{"m":602.5,"pz":84.5,"pc":81,"pa":73.5},{"m":607.5,"pz":83.5,"pc":81,"pa":74},{"m":612.5,"pz":84,"pc":81.5,"pa":74},{"m":617.5,"pz":85,"pc":81,"pa":74},
{"m":622.5,"pz":84,"pc":82,"pa":74.5},{"m":627.5,"pz":84.5,"pc":81.5,"pa":75},{"m":632.5,"pz":85,"pc":82.5,"pa":75},{"m":637.5,"pz":84.5,"pc":82,"pa":75.5},
{"m":642.5,"pz":84,"pc":81.5,"pa":74.5},{"m":647.5,"pz":83.5,"pc":80.5,"pa":74},{"m":652.5,"pz":82,"pc":79.5,"pa":73.5},{"m":657.5,"pz":82.5,"pc":79,"pa":73},
{"m":662.5,"pz":84,"pc":78.5,"pa":72.5},{"m":667.5,"pz":81,"pc":78,"pa":72.5},{"m":672.5,"pz":80,"pc":77,"pa":72},{"m":677.5,"pz":82,"pc":76,"pa":71.5},
{"m":682.5,"pz":78,"pc":75,"pa":71},{"m":687.5,"pz":83,"pc":77,"pa":72},{"m":692.5,"pz":79,"pc":76,"pa":71},{"m":697.5,"pz":84,"pc":78,"pa":72},
{"m":702.5,"pz":80,"pc":76,"pa":71.5},{"m":707.5,"pz":82,"pc":78,"pa":72},{"m":712.5,"pz":78,"pc":75,"pa":71},{"m":717.5,"pz":83,"pc":77,"pa":72},
{"m":722.5,"pz":79,"pc":76.5,"pa":71},{"m":727.5,"pz":85,"pc":78,"pa":72},{"m":732.5,"pz":80,"pc":76,"pa":71.5},{"m":737.5,"pz":82,"pc":77,"pa":72},
{"m":742.5,"pz":78,"pc":75,"pa":71},{"m":747.5,"pz":84,"pc":78,"pa":72},{"m":752.5,"pz":80,"pc":76,"pa":71.5},{"m":757.5,"pz":82,"pc":79,"pa":72.5},
{"m":762.5,"pz":79,"pc":76,"pa":71.5},{"m":767.5,"pz":83,"pc":78,"pa":72},{"m":772.5,"pz":81,"pc":77,"pa":72},{"m":777.5,"pz":86,"pc":79,"pa":72.5},
{"m":782.5,"pz":80,"pc":76,"pa":71.5},{"m":787.5,"pz":83,"pc":78,"pa":72},{"m":792.5,"pz":79,"pc":76,"pa":71.5},{"m":797.5,"pz":82,"pc":77.5,"pa":72},
{"m":802.5,"pz":80,"pc":76,"pa":71.5},{"m":807.5,"pz":84,"pc":78,"pa":72},{"m":812.5,"pz":79,"pc":76,"pa":71.5},{"m":817.5,"pz":82,"pc":77,"pa":72},
{"m":822.5,"pz":81,"pc":76.5,"pa":72},{"m":827.5,"pz":83,"pc":78,"pa":72},{"m":832.5,"pz":79,"pc":76,"pa":71.5},{"m":837.5,"pz":82,"pc":77,"pa":72},
{"m":842.5,"pz":80,"pc":76,"pa":71.5},{"m":847.5,"pz":85,"pc":79,"pa":72.5},{"m":852.5,"pz":81,"pc":77,"pa":72},{"m":857.5,"pz":83,"pc":78,"pa":72},
{"m":862.5,"pz":79,"pc":75.5,"pa":71},{"m":867.5,"pz":84,"pc":78,"pa":72.5},{"m":872.5,"pz":80,"pc":76,"pa":71.5},{"m":877.5,"pz":82,"pc":77,"pa":72},
{"m":882.5,"pz":79,"pc":76,"pa":71.5},{"m":887.5,"pz":85,"pc":79,"pa":72.5},{"m":892.5,"pz":81,"pc":77,"pa":72},{"m":897.5,"pz":83,"pc":78,"pa":72},
{"m":902.5,"pz":80,"pc":76.5,"pa":72},{"m":907.5,"pz":86,"pc":80,"pa":73},{"m":912.5,"pz":81,"pc":77,"pa":72},{"m":917.5,"pz":83,"pc":78,"pa":72.5},
{"m":922.5,"pz":80,"pc":77,"pa":72.5},{"m":927.5,"pz":84,"pc":79,"pa":73},{"m":932.5,"pz":81,"pc":77,"pa":72.5},{"m":937.5,"pz":83,"pc":78,"pa":72},
{"m":942.5,"pz":80,"pc":76.5,"pa":72},{"m":947.5,"pz":82,"pc":77,"pa":72.5},{"m":952.5,"pz":79,"pc":76,"pa":72},{"m":957.5,"pz":81,"pc":76.5,"pa":72},
{"m":962.5,"pz":79,"pc":76,"pa":71.5},{"m":967.5,"pz":80,"pc":77,"pa":72},{"m":972.5,"pz":78,"pc":75.5,"pa":71.5},{"m":977.5,"pz":82,"pc":77,"pa":72},
{"m":982.5,"pz":79,"pc":76,"pa":71.5},{"m":987.5,"pz":80,"pc":76.5,"pa":71.5},{"m":992.5,"pz":78,"pc":75.5,"pa":71.5},{"m":997.5,"pz":77,"pc":75,"pa":71},
{"m":1002.5,"pz":79,"pc":76,"pa":71.5},{"m":1007.5,"pz":76.5,"pc":74.5,"pa":71},{"m":1012.5,"pz":80,"pc":75.5,"pa":71},{"m":1017.5,"pz":77,"pc":74.5,"pa":70.5},
{"m":1022.5,"pz":79,"pc":75,"pa":71},{"m":1027.5,"pz":76,"pc":74,"pa":70.5},{"m":1032.5,"pz":78,"pc":75,"pa":71},{"m":1037.5,"pz":77,"pc":74.5,"pa":70.5},
{"m":1042.5,"pz":76,"pc":74,"pa":70},{"m":1047.5,"pz":79,"pc":75,"pa":70.5},{"m":1052.5,"pz":76,"pc":73.5,"pa":70},{"m":1057.5,"pz":78,"pc":74.5,"pa":70.5},
{"m":1062.5,"pz":77,"pc":74,"pa":70},{"m":1067.5,"pz":76,"pc":73.5,"pa":70},{"m":1072.5,"pz":80,"pc":75,"pa":70.5},{"m":1077.5,"pz":77,"pc":74,"pa":70},
{"m":1082.5,"pz":79,"pc":74.5,"pa":70.5},{"m":1087.5,"pz":76,"pc":74,"pa":70},{"m":1092.5,"pz":78,"pc":75,"pa":70.5},{"m":1097.5,"pz":81,"pc":75.5,"pa":71},
{"m":1102.5,"pz":77,"pc":74,"pa":70.5},{"m":1107.5,"pz":79,"pc":75,"pa":70.5},{"m":1112.5,"pz":76,"pc":74,"pa":70.5},{"m":1117.5,"pz":80,"pc":75.5,"pa":71},
{"m":1122.5,"pz":77,"pc":74.5,"pa":70.5},{"m":1127.5,"pz":78,"pc":75,"pa":71},{"m":1132.5,"pz":76,"pc":74.5,"pa":71},{"m":1137.5,"pz":79,"pc":75.5,"pa":71.5},
{"m":1142.5,"pz":77,"pc":75,"pa":71.5},{"m":1147.5,"pz":80,"pc":76,"pa":71.5},{"m":1152.5,"pz":82,"pc":77,"pa":73},{"m":1157.5,"pz":80,"pc":77,"pa":74},
{"m":1162.5,"pz":81,"pc":77,"pa":73},{"m":1167.5,"pz":79,"pc":76.5,"pa":72.5},{"m":1172.5,"pz":82,"pc":77.5,"pa":73},{"m":1177.5,"pz":79,"pc":76,"pa":72.5},
{"m":1182.5,"pz":80,"pc":77,"pa":72.5},{"m":1187.5,"pz":78,"pc":76,"pa":72},{"m":1192.5,"pz":81,"pc":77,"pa":72.5},{"m":1197.5,"pz":79,"pc":76.5,"pa":72},
{"m":1202.5,"pz":83,"pc":78,"pa":72.5},{"m":1207.5,"pz":80,"pc":77,"pa":72},{"m":1212.5,"pz":81,"pc":77.5,"pa":72.5},{"m":1217.5,"pz":79,"pc":76,"pa":72},
{"m":1222.5,"pz":82,"pc":77,"pa":72},{"m":1227.5,"pz":80,"pc":77,"pa":72},{"m":1232.5,"pz":83,"pc":78,"pa":72.5},{"m":1237.5,"pz":80,"pc":76.5,"pa":72},
{"m":1242.5,"pz":81,"pc":77,"pa":72.5},{"m":1247.5,"pz":79,"pc":76,"pa":72},{"m":1252.5,"pz":84,"pc":78,"pa":72.5},{"m":1257.5,"pz":80,"pc":77,"pa":72},
{"m":1262.5,"pz":81,"pc":77.5,"pa":72.5},{"m":1267.5,"pz":83,"pc":78,"pa":72.5},{"m":1272.5,"pz":80,"pc":77,"pa":72.5},{"m":1277.5,"pz":85,"pc":79,"pa":73},
{"m":1282.5,"pz":81,"pc":77.5,"pa":72.5},{"m":1287.5,"pz":83,"pc":78,"pa":73},{"m":1292.5,"pz":80,"pc":77,"pa":72.5},{"m":1297.5,"pz":82,"pc":78,"pa":72.5},
{"m":1302.5,"pz":81,"pc":77.5,"pa":73},{"m":1307.5,"pz":86,"pc":80,"pa":73.5},{"m":1312.5,"pz":82,"pc":78,"pa":73},{"m":1317.5,"pz":84,"pc":79,"pa":73.5},
{"m":1322.5,"pz":81,"pc":78,"pa":73},{"m":1327.5,"pz":85,"pc":80,"pa":74},{"m":1332.5,"pz":82,"pc":78.5,"pa":73},{"m":1337.5,"pz":80,"pc":77.5,"pa":73},
{"m":1342.5,"pz":84,"pc":79,"pa":73.5},{"m":1347.5,"pz":81,"pc":78,"pa":73},{"m":1352.5,"pz":83,"pc":79,"pa":73},{"m":1357.5,"pz":80,"pc":77.5,"pa":72.5},
{"m":1362.5,"pz":85,"pc":80,"pa":73.5},{"m":1367.5,"pz":82,"pc":78,"pa":73},{"m":1372.5,"pz":84,"pc":79.5,"pa":73.5},{"m":1377.5,"pz":81,"pc":78,"pa":73},
{"m":1382.5,"pz":83,"pc":79,"pa":73},{"m":1387.5,"pz":82,"pc":78.5,"pa":73.5},{"m":1392.5,"pz":86,"pc":80,"pa":74},{"m":1397.5,"pz":81,"pc":78,"pa":73},
{"m":1402.5,"pz":84,"pc":79,"pa":73},{"m":1407.5,"pz":82,"pc":78,"pa":72.5},{"m":1412.5,"pz":85,"pc":80,"pa":73.5},{"m":1417.5,"pz":81,"pc":78,"pa":73},
{"m":1422.5,"pz":88,"pc":81,"pa":74},{"m":1427.5,"pz":82,"pc":78,"pa":72.5},{"m":1432.5,"pz":84,"pc":79,"pa":73},{"m":1437.5,"pz":81,"pc":77.5,"pa":72.5}
],
"bot":[
{"m":0,"z":71.4,"c":70,"a":66.5,"l":69,"h":74},
{"m":5,"z":72,"c":70.6,"a":66.6,"l":69.5,"h":84},
{"m":10,"z":70.4,"c":69.3,"a":66.5,"l":68.5,"h":73},
{"m":15,"z":71.5,"c":70.2,"a":66.4,"l":69,"h":80},
{"m":20,"z":72.6,"c":71,"a":66.6,"l":69.5,"h":75},
{"m":25,"z":71.3,"c":70,"a":66.5,"l":69,"h":85},
{"m":30,"z":70.6,"c":69.5,"a":66.3,"l":68.3,"h":73},
{"m":35,"z":70.4,"c":69.4,"a":66.5,"l":68.5,"h":82},
{"m":40,"z":71.2,"c":70,"a":66.8,"l":68.8,"h":73.5},
{"m":45,"z":70.9,"c":69.8,"a":67,"l":68.5,"h":81},
{"m":50,"z":71.3,"c":70,"a":67,"l":68.8,"h":74},
{"m":55,"z":70.6,"c":69.6,"a":66.8,"l":68.5,"h":79},
{"m":60,"z":71,"c":69.8,"a":67,"l":68.7,"h":73.5},
{"m":65,"z":71.4,"c":70.1,"a":67.2,"l":69,"h":80},
{"m":70,"z":71.5,"c":70.2,"a":67.6,"l":69,"h":74},
{"m":75,"z":71.6,"c":70.3,"a":68,"l":69.2,"h":79},
{"m":80,"z":71.2,"c":70,"a":68.1,"l":69,"h":73.5},
{"m":85,"z":71,"c":69.9,"a":67.5,"l":68.8,"h":78},
{"m":90,"z":71.1,"c":70,"a":67.2,"l":68.8,"h":73.5},
{"m":95,"z":71.3,"c":70,"a":67,"l":69,"h":80},
{"m":100,"z":71,"c":69.8,"a":66.8,"l":68.7,"h":73.5},
{"m":105,"z":70.8,"c":69.7,"a":66.8,"l":68.6,"h":77},
{"m":110,"z":70.5,"c":69.4,"a":66.8,"l":68.5,"h":73},
{"m":115,"z":70.6,"c":69.5,"a":66.9,"l":68.6,"h":85},
{"m":120,"z":70.6,"c":69.5,"a":67,"l":68.6,"h":73},
{"m":125,"z":70.8,"c":69.6,"a":67.3,"l":68.7,"h":76},
{"m":130,"z":70.9,"c":69.7,"a":67.8,"l":68.8,"h":73.5},
{"m":135,"z":70.9,"c":69.8,"a":67.6,"l":68.8,"h":78},
{"m":140,"z":70.8,"c":69.7,"a":67.2,"l":68.6,"h":73.5},
{"m":145,"z":70.9,"c":69.8,"a":67,"l":68.8,"h":79},
{"m":150,"z":70.7,"c":69.6,"a":66.9,"l":68.5,"h":73},
{"m":155,"z":70.6,"c":69.5,"a":67,"l":68.5,"h":80},
{"m":160,"z":70.8,"c":69.6,"a":67,"l":68.6,"h":73.5},
{"m":165,"z":70.9,"c":69.7,"a":66.9,"l":68.7,"h":76},
{"m":170,"z":70.8,"c":69.7,"a":66.8,"l":68.6,"h":73.5},
{"m":175,"z":70.6,"c":69.5,"a":67,"l":68.5,"h":79},
{"m":180,"z":70.5,"c":69.4,"a":67.2,"l":68.4,"h":73},
{"m":185,"z":70.7,"c":69.6,"a":67.4,"l":68.5,"h":77},
{"m":190,"z":71,"c":69.8,"a":67.6,"l":68.8,"h":73.5},
{"m":195,"z":71.2,"c":70,"a":67.9,"l":69,"h":81},
{"m":200,"z":71,"c":69.8,"a":67.6,"l":68.8,"h":73.5},
{"m":205,"z":70.9,"c":69.7,"a":67.2,"l":68.7,"h":79},
{"m":210,"z":70.9,"c":69.7,"a":67,"l":68.7,"h":73.5},
{"m":215,"z":70.8,"c":69.6,"a":67,"l":68.6,"h":78},
{"m":220,"z":70.7,"c":69.5,"a":67,"l":68.5,"h":73},
{"m":225,"z":70.7,"c":69.5,"a":67.1,"l":68.5,"h":80},
{"m":230,"z":70.6,"c":69.5,"a":67,"l":68.4,"h":73},
{"m":235,"z":70.6,"c":69.4,"a":67.1,"l":68.5,"h":82},
{"m":240,"z":70.6,"c":69.5,"a":67,"l":68.5,"h":73},
{"m":245,"z":70.7,"c":69.6,"a":67,"l":68.5,"h":77},
{"m":250,"z":70.7,"c":69.6,"a":67.2,"l":68.6,"h":73},
{"m":255,"z":71,"c":69.8,"a":67.5,"l":68.8,"h":78},
{"m":260,"z":71.5,"c":70.2,"a":67.8,"l":69,"h":74},
{"m":265,"z":71.9,"c":70.5,"a":68,"l":69.3,"h":84},
{"m":270,"z":71.4,"c":70.2,"a":67.9,"l":69,"h":74},
{"m":275,"z":71.2,"c":70,"a":67.7,"l":68.9,"h":79},
{"m":280,"z":70.5,"c":69.5,"a":67.6,"l":68.5,"h":73},
{"m":285,"z":70.8,"c":69.7,"a":67.6,"l":68.6,"h":80},
{"m":290,"z":71.4,"c":70.1,"a":67.6,"l":68.9,"h":74},
{"m":295,"z":71.8,"c":70.4,"a":67.5,"l":69.2,"h":84},
{"m":300,"z":71.1,"c":70,"a":67.5,"l":68.8,"h":73.5},
{"m":305,"z":70.9,"c":69.8,"a":67.4,"l":68.7,"h":79},
{"m":310,"z":70.9,"c":69.8,"a":67.3,"l":68.7,"h":73.5},
{"m":315,"z":70.9,"c":69.8,"a":67,"l":68.7,"h":78},
{"m":320,"z":71,"c":69.8,"a":67,"l":68.8,"h":73.5},
{"m":325,"z":71.1,"c":69.9,"a":67,"l":68.8,"h":81},
{"m":330,"z":71.1,"c":69.9,"a":67,"l":68.8,"h":73.5},
{"m":335,"z":70.8,"c":69.7,"a":67,"l":68.6,"h":79},
{"m":340,"z":70.7,"c":69.6,"a":67,"l":68.5,"h":73},
{"m":345,"z":70.9,"c":69.7,"a":67,"l":68.6,"h":80},
{"m":350,"z":71.1,"c":69.9,"a":67,"l":68.8,"h":73.5},
{"m":355,"z":71.5,"c":70.2,"a":67.1,"l":69,"h":82},
{"m":360,"z":71.2,"c":70,"a":67,"l":68.8,"h":73.5},
{"m":365,"z":70.4,"c":69.4,"a":66.8,"l":68.3,"h":76},
{"m":370,"z":70.4,"c":69.3,"a":66.7,"l":68.2,"h":73},
{"m":375,"z":70.3,"c":69.3,"a":66.7,"l":68.2,"h":75},
{"m":380,"z":70.4,"c":69.3,"a":66.7,"l":68.2,"h":73},
{"m":385,"z":70.5,"c":69.4,"a":66.7,"l":68.3,"h":76},
{"m":390,"z":70.6,"c":69.5,"a":66.7,"l":68.4,"h":73},
{"m":395,"z":70.5,"c":69.4,"a":66.8,"l":68.3,"h":79},
{"m":400,"z":70.4,"c":69.3,"a":66.8,"l":68.2,"h":73},
{"m":405,"z":70.3,"c":69.2,"a":66.7,"l":68.2,"h":76},
{"m":410,"z":70.4,"c":69.3,"a":66.5,"l":68.2,"h":73},
{"m":415,"z":70.6,"c":69.4,"a":66.4,"l":68.3,"h":79},
{"m":420,"z":70.7,"c":69.5,"a":66.3,"l":68.4,"h":73},
{"m":425,"z":70.6,"c":69.4,"a":66.5,"l":68.3,"h":75},
{"m":430,"z":70.5,"c":69.4,"a":66.7,"l":68.2,"h":73},
{"m":435,"z":70.3,"c":69.4,"a":66.7,"l":68.2,"h":78},
{"m":440,"z":70.6,"c":69.5,"a":66.6,"l":68.4,"h":73},
{"m":445,"z":70.8,"c":69.7,"a":66.6,"l":68.5,"h":81},
{"m":450,"z":71,"c":69.9,"a":66.7,"l":68.7,"h":73.5},
{"m":455,"z":71.2,"c":70,"a":67.5,"l":69,"h":80},
{"m":460,"z":71.7,"c":70.8,"a":70,"l":69.5,"h":76},
{"m":465,"z":73.9,"c":73.4,"a":73.1,"l":71,"h":82},
{"m":470,"z":69.8,"c":69,"a":66.2,"l":67.8,"h":72.5},
{"m":475,"z":70,"c":69.2,"a":66.4,"l":68,"h":75},
{"m":480,"z":70.1,"c":69.3,"a":66.6,"l":68,"h":72.5},
{"m":485,"z":72,"c":71.5,"a":70,"l":69.5,"h":80},
{"m":490,"z":74.5,"c":73.9,"a":73.4,"l":71,"h":82},
{"m":495,"z":70.3,"c":69.4,"a":67,"l":68.3,"h":78},
{"m":500,"z":70.1,"c":69.2,"a":66.7,"l":68,"h":72.5},
{"m":505,"z":70.1,"c":69.2,"a":66.7,"l":68,"h":77},
{"m":510,"z":70.1,"c":69.2,"a":66.7,"l":68,"h":72.5},
{"m":515,"z":70.1,"c":69.2,"a":66.8,"l":68,"h":79},
{"m":520,"z":70.1,"c":69.2,"a":66.7,"l":68,"h":72.5},
{"m":525,"z":70.2,"c":69.3,"a":66.8,"l":68.1,"h":77},
{"m":530,"z":70.6,"c":69.6,"a":67,"l":68.3,"h":73},
{"m":535,"z":71.5,"c":70.8,"a":68.5,"l":69,"h":80},
{"m":540,"z":72.6,"c":72,"a":70.1,"l":70,"h":75},
{"m":545,"z":72.8,"c":72.2,"a":70.2,"l":70.2,"h":81},
{"m":550,"z":72.8,"c":72.3,"a":70.4,"l":70.3,"h":75.5},
{"m":555,"z":73.3,"c":72.5,"a":70.9,"l":70.5,"h":80},
{"m":560,"z":72.8,"c":71.8,"a":69.5,"l":70,"h":75.5},
{"m":565,"z":72,"c":70.5,"a":66.9,"l":69.5,"h":79},
{"m":570,"z":73.9,"c":72,"a":67,"l":70.5,"h":76.5},
{"m":575,"z":74.5,"c":72.6,"a":67.3,"l":71.5,"h":81},
{"m":580,"z":75.4,"c":73.3,"a":67.7,"l":72,"h":78},
{"m":585,"z":76.5,"c":74.5,"a":68.2,"l":73,"h":82},
{"m":590,"z":79,"c":76.5,"a":69.2,"l":75,"h":81.5},
{"m":595,"z":80.3,"c":77.8,"a":69.8,"l":77,"h":84},
{"m":600,"z":80.6,"c":78.1,"a":70.2,"l":77.5,"h":83},
{"m":605,"z":80.6,"c":78.1,"a":70.3,"l":77.8,"h":85},
{"m":610,"z":80.8,"c":78.3,"a":70.6,"l":78,"h":83.5},
{"m":615,"z":81.4,"c":78.4,"a":70.9,"l":78.2,"h":85.5},
{"m":620,"z":81,"c":78.6,"a":70.6,"l":78,"h":83.5},
{"m":625,"z":81.3,"c":78.9,"a":71.2,"l":78.3,"h":85},
{"m":630,"z":81.5,"c":79,"a":71.2,"l":78.5,"h":84},
{"m":635,"z":81.7,"c":79,"a":71,"l":78.5,"h":86},
{"m":640,"z":81.3,"c":78.5,"a":70.5,"l":78,"h":84},
{"m":645,"z":80.6,"c":76.2,"a":70.2,"l":77,"h":84},
{"m":650,"z":78.1,"c":75.9,"a":70,"l":74.5,"h":80.5},
{"m":655,"z":77.6,"c":75.5,"a":69.8,"l":74,"h":86},
{"m":660,"z":77.3,"c":75,"a":69.7,"l":73.5,"h":80},
{"m":665,"z":76.8,"c":74.3,"a":69.5,"l":73,"h":85},
{"m":670,"z":75.6,"c":73.5,"a":69.5,"l":72,"h":78},
{"m":675,"z":72.6,"c":70.5,"a":67.9,"l":68.8,"h":84},
{"m":680,"z":72.2,"c":70.2,"a":68.8,"l":68.5,"h":75},
{"m":685,"z":72,"c":70,"a":68.5,"l":68.3,"h":86},
{"m":690,"z":72,"c":70.1,"a":67.7,"l":68.3,"h":74.5},
{"m":695,"z":72.3,"c":70.3,"a":67.2,"l":68.5,"h":84},
{"m":700,"z":72.5,"c":70.3,"a":67,"l":68.5,"h":75},
{"m":705,"z":73,"c":70.5,"a":67,"l":68.7,"h":85},
{"m":710,"z":71.5,"c":69.8,"a":67.2,"l":68,"h":74},
{"m":715,"z":72.2,"c":70.1,"a":67.8,"l":68.5,"h":83},
{"m":720,"z":72.5,"c":70.3,"a":68.3,"l":68.8,"h":75},
{"m":725,"z":71,"c":69.5,"a":68.5,"l":67.8,"h":84},
{"m":730,"z":71.5,"c":70,"a":67.8,"l":68.2,"h":74},
{"m":735,"z":71.7,"c":70.1,"a":67.7,"l":68.3,"h":86},
{"m":740,"z":70.4,"c":69.4,"a":67.5,"l":67.5,"h":73},
{"m":745,"z":70.9,"c":69.7,"a":67.3,"l":67.8,"h":83},
{"m":750,"z":71.2,"c":69.8,"a":67.3,"l":68,"h":73.5},
{"m":755,"z":72,"c":70.3,"a":67.8,"l":68.5,"h":85},
{"m":760,"z":73.5,"c":71.2,"a":68.2,"l":69.5,"h":76},
{"m":765,"z":72,"c":70.5,"a":68,"l":68.5,"h":79},
{"m":770,"z":73.3,"c":71,"a":68.3,"l":69.2,"h":76},
{"m":775,"z":71.8,"c":70.3,"a":68.2,"l":68.5,"h":80},
{"m":780,"z":71.5,"c":70.1,"a":68,"l":68.3,"h":74},
{"m":785,"z":71.2,"c":69.9,"a":68.1,"l":68,"h":78},
{"m":790,"z":71.8,"c":70.3,"a":68.2,"l":68.4,"h":74.5},
{"m":795,"z":71.5,"c":70.1,"a":68.2,"l":68.3,"h":79},
{"m":800,"z":71.2,"c":69.9,"a":68.3,"l":68,"h":74},
{"m":805,"z":71.6,"c":70.2,"a":68.4,"l":68.3,"h":78},
{"m":810,"z":71.9,"c":70.4,"a":68.5,"l":68.5,"h":74.5},
{"m":815,"z":71.6,"c":70.3,"a":68.4,"l":68.3,"h":79},
{"m":820,"z":72,"c":70.5,"a":68.5,"l":68.6,"h":74.5},
{"m":825,"z":71.5,"c":70.2,"a":68.3,"l":68.2,"h":80},
{"m":830,"z":71.8,"c":70.4,"a":68.4,"l":68.5,"h":74.5},
{"m":835,"z":71.4,"c":70.1,"a":68.4,"l":68.2,"h":79},
{"m":840,"z":71.5,"c":70.2,"a":68.5,"l":68.3,"h":74},
{"m":845,"z":71.7,"c":70.3,"a":68.7,"l":68.5,"h":82},
{"m":850,"z":72.6,"c":71.4,"a":68.5,"l":69,"h":75},
{"m":855,"z":71.5,"c":70.2,"a":68.2,"l":68.3,"h":87},
{"m":860,"z":70.9,"c":69.8,"a":67.9,"l":68,"h":73.5},
{"m":865,"z":71.8,"c":70.4,"a":68.4,"l":68.5,"h":84},
{"m":870,"z":71.8,"c":70.4,"a":68.8,"l":68.5,"h":74.5},
{"m":875,"z":70.9,"c":69.8,"a":68.9,"l":68,"h":85},
{"m":880,"z":70.4,"c":69.5,"a":68.2,"l":67.6,"h":73},
{"m":885,"z":71.2,"c":69.9,"a":68.1,"l":68,"h":84},
{"m":890,"z":71.3,"c":70,"a":68.2,"l":68,"h":74},
{"m":895,"z":71.2,"c":69.9,"a":68.3,"l":68,"h":86},
{"m":900,"z":72,"c":70.6,"a":68.7,"l":68.5,"h":74.5},
{"m":905,"z":72.2,"c":70.9,"a":69,"l":68.8,"h":85},
{"m":910,"z":71.6,"c":70.4,"a":69,"l":68.3,"h":74},
{"m":915,"z":72.2,"c":70.7,"a":69.4,"l":68.6,"h":84},
{"m":920,"z":73,"c":71.5,"a":70,"l":69.2,"h":75.5},
{"m":925,"z":72.5,"c":71.2,"a":69.8,"l":69,"h":87},
{"m":930,"z":73.3,"c":72,"a":69.5,"l":69.5,"h":76},
{"m":935,"z":72,"c":71,"a":69.2,"l":68.8,"h":87},
{"m":940,"z":71.9,"c":70.8,"a":69.1,"l":68.8,"h":74.5},
{"m":945,"z":71.8,"c":70.7,"a":69,"l":68.8,"h":81},
{"m":950,"z":71.6,"c":70.6,"a":68.9,"l":68.7,"h":74},
{"m":955,"z":71.4,"c":70.4,"a":68.8,"l":68.5,"h":84},
{"m":960,"z":71.3,"c":70.4,"a":68.8,"l":68.5,"h":74},
{"m":965,"z":71.5,"c":70.5,"a":68.7,"l":68.6,"h":85},
{"m":970,"z":71.4,"c":70.5,"a":68.6,"l":68.5,"h":74},
{"m":975,"z":71.7,"c":70.6,"a":68.7,"l":68.6,"h":82},
{"m":980,"z":71.5,"c":70.6,"a":68.8,"l":68.5,"h":74},
{"m":985,"z":71.5,"c":70.6,"a":68.9,"l":68.5,"h":81},
{"m":990,"z":71.4,"c":70.6,"a":68.9,"l":68.4,"h":74},
{"m":995,"z":70.9,"c":70.1,"a":68.6,"l":68,"h":80},
{"m":1000,"z":70.6,"c":69.8,"a":68.3,"l":67.8,"h":73},
{"m":1005,"z":71,"c":70,"a":68.3,"l":68,"h":79},
{"m":1010,"z":71.2,"c":70.1,"a":68.4,"l":68.2,"h":73.5},
{"m":1015,"z":71.1,"c":70,"a":68.4,"l":68.1,"h":78},
{"m":1020,"z":71,"c":70,"a":68.3,"l":68,"h":73.5},
{"m":1025,"z":71,"c":69.9,"a":68.2,"l":68,"h":80},
{"m":1030,"z":70.9,"c":69.9,"a":68.1,"l":68,"h":73.5},
{"m":1035,"z":71.1,"c":70,"a":68.1,"l":68.1,"h":79},
{"m":1040,"z":71.1,"c":70,"a":68,"l":68.1,"h":73.5},
{"m":1045,"z":70.8,"c":69.8,"a":68,"l":67.9,"h":78},
{"m":1050,"z":70.5,"c":69.6,"a":67.9,"l":67.7,"h":73},
{"m":1055,"z":70.4,"c":69.5,"a":67.8,"l":67.6,"h":77},
{"m":1060,"z":70.3,"c":69.5,"a":67.6,"l":67.5,"h":73},
{"m":1065,"z":70.3,"c":69.5,"a":67.5,"l":67.5,"h":82},
{"m":1070,"z":70.5,"c":69.6,"a":67.4,"l":67.6,"h":73},
{"m":1075,"z":70.7,"c":69.7,"a":67.3,"l":67.7,"h":84},
{"m":1080,"z":70.9,"c":69.8,"a":67.3,"l":67.8,"h":73.5},
{"m":1085,"z":70.4,"c":69.5,"a":67.4,"l":67.5,"h":80},
{"m":1090,"z":71.2,"c":70,"a":67.6,"l":68,"h":73.5},
{"m":1095,"z":71,"c":69.9,"a":67.8,"l":67.9,"h":83},
{"m":1100,"z":70.9,"c":69.8,"a":67.9,"l":67.8,"h":73.5},
{"m":1105,"z":71.1,"c":69.9,"a":68,"l":68,"h":80},
{"m":1110,"z":71.3,"c":70.1,"a":68.1,"l":68.2,"h":74},
{"m":1115,"z":71.1,"c":70,"a":68.2,"l":68,"h":82},
{"m":1120,"z":70.9,"c":69.9,"a":68.3,"l":67.9,"h":73.5},
{"m":1125,"z":71,"c":70,"a":68.4,"l":68,"h":80},
{"m":1130,"z":71.1,"c":70.1,"a":68.6,"l":68.1,"h":73.5},
{"m":1135,"z":71,"c":70.1,"a":68.7,"l":68,"h":81},
{"m":1140,"z":71.1,"c":70.2,"a":68.8,"l":68.1,"h":73.5},
{"m":1145,"z":71.2,"c":70.3,"a":68.9,"l":68.2,"h":80},
{"m":1150,"z":71.3,"c":70.5,"a":69.2,"l":68.3,"h":74},
{"m":1155,"z":72.8,"c":72.3,"a":70.7,"l":70.5,"h":88},
{"m":1160,"z":72.9,"c":72.4,"a":70.5,"l":70.5,"h":75.5},
{"m":1165,"z":72.9,"c":72.3,"a":70.2,"l":70.3,"h":84},
{"m":1170,"z":72.5,"c":71.8,"a":69.5,"l":70,"h":75},
{"m":1175,"z":72,"c":71.3,"a":68.8,"l":69.5,"h":82},
{"m":1180,"z":72,"c":71.2,"a":68.7,"l":69.5,"h":74.5},
{"m":1185,"z":71.8,"c":71.1,"a":68.9,"l":69.3,"h":83},
{"m":1190,"z":72,"c":71.2,"a":69.2,"l":69.5,"h":74.5},
{"m":1195,"z":72.3,"c":71.5,"a":69.6,"l":69.7,"h":81},
{"m":1200,"z":72.4,"c":71.7,"a":69.3,"l":69.8,"h":75},
{"m":1205,"z":72.6,"c":71.9,"a":68.8,"l":70,"h":84},
{"m":1210,"z":71.9,"c":71.2,"a":68.7,"l":69.5,"h":74.5},
{"m":1215,"z":72.2,"c":71.4,"a":68.8,"l":69.7,"h":82},
{"m":1220,"z":72.4,"c":71.6,"a":68.8,"l":69.8,"h":75},
{"m":1225,"z":72.2,"c":71.4,"a":68.9,"l":69.6,"h":83},
{"m":1230,"z":71.9,"c":71.2,"a":69,"l":69.4,"h":74.5},
{"m":1235,"z":72.1,"c":71.3,"a":69,"l":69.5,"h":81},
{"m":1240,"z":72.5,"c":71.6,"a":69.1,"l":69.8,"h":75},
{"m":1245,"z":72.2,"c":71.4,"a":69,"l":69.6,"h":85},
{"m":1250,"z":72,"c":71.3,"a":68.9,"l":69.5,"h":74.5},
{"m":1255,"z":71.9,"c":71.2,"a":68.8,"l":69.4,"h":79},
{"m":1260,"z":72.2,"c":71.4,"a":68.9,"l":69.6,"h":74.5},
{"m":1265,"z":72.4,"c":71.5,"a":69,"l":69.7,"h":83},
{"m":1270,"z":72.9,"c":71.8,"a":69.3,"l":70,"h":75.5},
{"m":1275,"z":72.5,"c":71.6,"a":69.2,"l":69.8,"h":86},
{"m":1280,"z":72.3,"c":71.5,"a":69.3,"l":69.7,"h":75},
{"m":1285,"z":72.6,"c":71.6,"a":69.4,"l":69.9,"h":79},
{"m":1290,"z":72.4,"c":71.5,"a":69.5,"l":69.8,"h":75},
{"m":1295,"z":72.2,"c":71.4,"a":69.5,"l":69.6,"h":82},
{"m":1300,"z":72.7,"c":71.7,"a":69.7,"l":70,"h":75},
{"m":1305,"z":73.6,"c":72.2,"a":70,"l":70.5,"h":85},
{"m":1310,"z":73.2,"c":72,"a":70.2,"l":70.3,"h":75.5},
{"m":1315,"z":73.3,"c":72.1,"a":70.3,"l":70.4,"h":86},
{"m":1320,"z":72.7,"c":71.8,"a":70.4,"l":70,"h":75},
{"m":1325,"z":72.5,"c":71.7,"a":70.3,"l":69.9,"h":87},
{"m":1330,"z":72.8,"c":71.8,"a":70.1,"l":70,"h":75.5},
{"m":1335,"z":72.6,"c":71.7,"a":70,"l":69.9,"h":84},
{"m":1340,"z":72.3,"c":71.5,"a":69.8,"l":69.7,"h":75},
{"m":1345,"z":72.5,"c":71.6,"a":69.6,"l":69.8,"h":85},
{"m":1350,"z":72.3,"c":71.5,"a":69.5,"l":69.7,"h":75},
{"m":1355,"z":72.8,"c":71.8,"a":69.6,"l":70,"h":84},
{"m":1360,"z":72.5,"c":71.6,"a":69.5,"l":69.8,"h":75},
{"m":1365,"z":73.1,"c":72,"a":69.7,"l":70.2,"h":86},
{"m":1370,"z":72.7,"c":71.8,"a":69.6,"l":70,"h":75},
{"m":1375,"z":72.6,"c":71.7,"a":69.4,"l":69.9,"h":83},
{"m":1380,"z":72.4,"c":71.6,"a":69.3,"l":69.7,"h":75},
{"m":1385,"z":73.3,"c":72.1,"a":69.5,"l":70.3,"h":87},
{"m":1390,"z":73.6,"c":72.3,"a":69.6,"l":70.5,"h":76},
{"m":1395,"z":72.8,"c":71.8,"a":69.4,"l":70,"h":82},
{"m":1400,"z":72.6,"c":71.7,"a":69.2,"l":69.9,"h":75},
{"m":1405,"z":72.9,"c":71.9,"a":69.1,"l":70,"h":81},
{"m":1410,"z":72.5,"c":71.6,"a":69,"l":69.8,"h":75},
{"m":1415,"z":73.2,"c":72,"a":69.1,"l":70.2,"h":86},
{"m":1420,"z":72.6,"c":71.7,"a":69,"l":69.9,"h":75},
{"m":1425,"z":72.4,"c":71.5,"a":68.8,"l":69.7,"h":84},
{"m":1430,"z":72.2,"c":71.4,"a":68.6,"l":69.6,"h":74.5},
{"m":1435,"z":72.1,"c":71.3,"a":68.5,"l":69.5,"h":85},
{"m":1440,"z":72,"c":71.2,"a":68.6,"l":69.5,"h":74.5}
]
},
"vconcat":[
{
 "width":2285,"height":504,
 "title":{"text":"average and peak noise level (1 min sampling)","anchor":"start","frame":"group","fontSize":11.5,"fontWeight":"bold","offset":6},
 "data":{"name":"top"},
 "encoding":{
  "x":{"field":"m","type":"quantitative","scale":{"domain":[0,1440],"nice":false,"zero":false},
   "axis":{"title":"time","values":[0,30,60,90,120,150,180,210,240,270,300,330,360,390,420,450,480,510,540,570,600,630,660,690,720,750,780,810,840,870,900,930,960,990,1020,1050,1080,1110,1140,1170,1200,1230,1260,1290,1320,1350,1380,1410],
    "labelExpr":"datum.value % 120 == 0 ? utcFormat(datum.value*60000,'%H:%M') : ''",
    "grid":true,
    "gridColor":{"condition":{"test":"datum.value % 120 == 0","value":"#b0b0b0"},"value":"#d2cab0"},
    "gridDash":{"condition":{"test":"datum.value % 120 == 0","value":[]},"value":[2,2]},
    "gridWidth":{"condition":{"test":"datum.value % 120 == 0","value":1.3},"value":0.8}}}
 },
 "layer":[
  {"layer":[
   {"transform":[{"fold":["pz","pc","pa"],"as":["k","v"]}],
    "mark":{"type":"text","text":"+","font":"DejaVu Sans","fontSize":9,"align":"center","baseline":"middle","opacity":0.9},
    "encoding":{
     "y":{"field":"v","type":"quantitative","scale":{"domain":[24,108],"nice":false,"zero":false},
      "axis":{"orient":"left","title":"dB SPL","values":[24,27,30,33,36,39,42,45,48,51,54,57,60,63,66,69,72,75,78,81,84,87,90,93,96,99,102,105,108],
       "labelExpr":"datum.value % 12 == 0 ? datum.label : ''",
       "grid":true,
       "gridColor":{"condition":{"test":"datum.value % 12 == 0","value":"#b0b0b0"},"value":"#c4c4c4"},
       "gridDash":{"condition":{"test":"datum.value % 12 == 0","value":[]},"value":[4,2]},
       "gridWidth":{"condition":{"test":"datum.value % 12 == 0","value":1.3},"value":0.8}}},
     "color":{"field":"k","type":"nominal",
      "scale":{"domain":["pz","pc","pa"],"range":["#1e90ff","#ff00ff","#2e8b57"]},
      "legend":{"orient":"none","legendX":2097,"legendY":458,"title":null,"padding":4,"fillColor":"#fff8dc","strokeColor":"#e3c594","cornerRadius":3,"rowPadding":2,"labelFontSize":9.5,"symbolType":"circle","symbolSize":20,"symbolOffset":8,"labelOffset":14,
       "labelExpr":"datum.label == 'pz' ? 'peak dB(Z)' : datum.label == 'pc' ? 'peak dB(C)' : 'peak dB(A)'"}}
    }},
   {"data":{"name":"pk2"},
    "transform":[{"fold":["pz","pc","pa"],"as":["k","v"]}],
    "mark":{"type":"text","text":"+","font":"DejaVu Sans","fontSize":9,"align":"center","baseline":"middle","opacity":0.9},
    "encoding":{
     "y":{"field":"v","type":"quantitative"},
     "color":{"field":"k","type":"nominal"}
    }}
  ]},
  {"transform":[{"fold":["z","c","a"],"as":["k","v"]}],
   "mark":{"type":"line","strokeWidth":1.4},
   "encoding":{
    "y":{"field":"v","type":"quantitative","scale":{"domain":[24,108],"nice":false,"zero":false},
     "axis":{"orient":"right","title":"dB SPL","titleAngle":270,"values":[24,27,30,33,36,39,42,45,48,51,54,57,60,63,66,69,72,75,78,81,84,87,90,93,96,99,102,105,108],
      "labelExpr":"datum.value % 12 == 0 ? datum.label : ''","grid":false}},
    "color":{"field":"k","type":"nominal",
     "scale":{"domain":["z","c","a"],"range":["#4682b4","#da70d6","#9acd32"]},
     "legend":{"orient":"none","legendX":2185,"legendY":458,"title":null,"padding":4,"fillColor":"#fff8dc","strokeColor":"#e3c594","cornerRadius":3,"rowPadding":2,"labelFontSize":9.5,"symbolType":"M-2.5,0H2.5","symbolSize":80,"symbolStrokeWidth":3,"symbolOffset":17,"labelOffset":13,
      "labelExpr":"datum.label == 'z' ? 'avg dB(Z)' : datum.label == 'c' ? 'avg dB(C)' : 'avg dB(A)'"}}
   }}
 ],
 "resolve":{"scale":{"color":"independent"},"legend":{"color":"independent"},"axis":{"y":"independent"}}
},
{
 "width":2285,"height":505,
 "title":{"text":"average noise level (5 min with 15s min/max dB envelope)","anchor":"start","frame":"group","fontSize":11.5,"fontWeight":"bold","offset":6},
 "data":{"name":"bot"},
 "encoding":{
  "x":{"field":"m","type":"quantitative","scale":{"domain":[0,1440],"nice":false,"zero":false},
   "axis":{"title":"time","values":[0,30,60,90,120,150,180,210,240,270,300,330,360,390,420,450,480,510,540,570,600,630,660,690,720,750,780,810,840,870,900,930,960,990,1020,1050,1080,1110,1140,1170,1200,1230,1260,1290,1320,1350,1380,1410,1440],
    "labelExpr":"datum.value % 120 == 0 ? utcFormat(datum.value*60000,'%H:%M:%S') : ''",
    "grid":true,
    "gridColor":{"condition":{"test":"datum.value % 120 == 0","value":"#b0b0b0"},"value":"#d2cab0"},
    "gridDash":{"condition":{"test":"datum.value % 120 == 0","value":[]},"value":[2,2]},
    "gridWidth":{"condition":{"test":"datum.value % 120 == 0","value":1.3},"value":0.8}}}
 },
 "layer":[
  {"mark":{"type":"area","color":"#f08080","opacity":0.3},
   "encoding":{
    "y":{"field":"l","type":"quantitative","scale":{"domain":[24,108],"nice":false,"zero":false},
     "axis":{"orient":"left","title":"dB SPL","values":[24,27,30,33,36,39,42,45,48,51,54,57,60,63,66,69,72,75,78,81,84,87,90,93,96,99,102,105,108],
      "labelExpr":"datum.value % 12 == 0 ? datum.label : ''",
      "grid":true,
      "gridColor":{"condition":{"test":"datum.value % 12 == 0","value":"#b0b0b0"},"value":"#c4c4c4"},
      "gridDash":{"condition":{"test":"datum.value % 12 == 0","value":[]},"value":[4,2]},
      "gridWidth":{"condition":{"test":"datum.value % 12 == 0","value":1.3},"value":0.8}}},
    "y2":{"field":"h"}
   }},
  {"transform":[{"fold":["z","c","a"],"as":["k","v"]}],
   "mark":{"type":"line","strokeWidth":1.8},
   "encoding":{
    "y":{"field":"v","type":"quantitative","scale":{"domain":[24,108],"nice":false,"zero":false},
     "axis":{"orient":"right","title":"dB SPL","titleAngle":270,"values":[24,27,30,33,36,39,42,45,48,51,54,57,60,63,66,69,72,75,78,81,84,87,90,93,96,99,102,105,108],
      "labelExpr":"datum.value % 12 == 0 ? datum.label : ''","grid":false}},
    "color":{"field":"k","type":"nominal",
     "scale":{"domain":["z","c","a"],"range":["#dc143c","#ff8c00","#ffd700"]},
     "legend":{"orient":"bottom-right","title":null,"offset":3,"padding":3,"fillColor":"#fff8dc","strokeColor":"#e3c594","cornerRadius":3,"rowPadding":2,"labelFontSize":9.5,"symbolType":"M-2.5,0H2.5","symbolSize":80,"symbolStrokeWidth":3,"symbolOffset":6,"labelOffset":13,
      "labelExpr":"datum.label == 'z' ? 'dB(Z)' : datum.label == 'c' ? 'dB(C)' : 'dB(A)'"}}
   }}
 ],
 "resolve":{"axis":{"y":"independent"}}
}
],
"resolve":{"scale":{"color":"independent"},"legend":{"color":"independent"}}
}
